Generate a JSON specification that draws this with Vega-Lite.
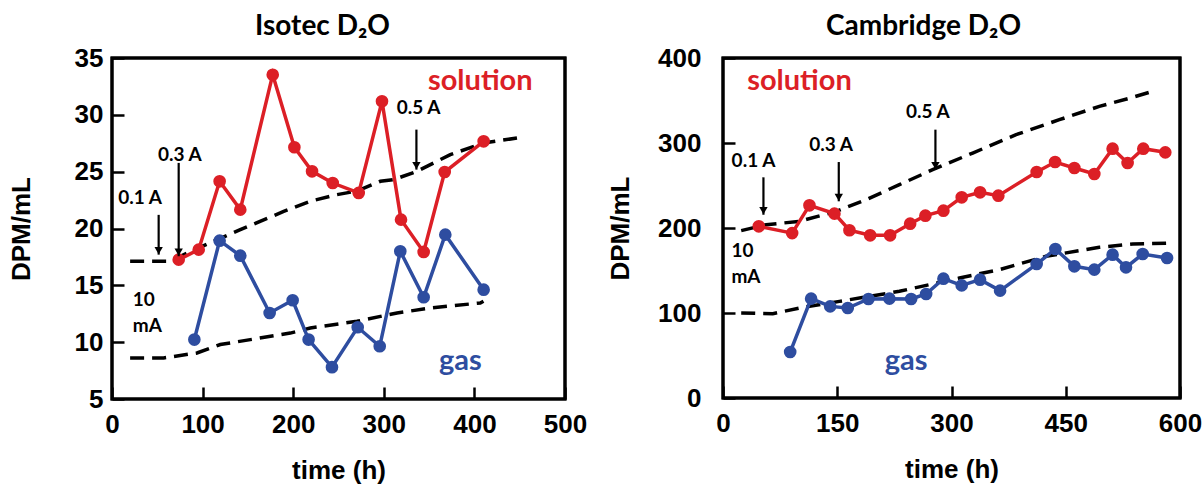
{
  "$schema": "https://vega.github.io/schema/vega-lite/v6.json",
  "padding": {"left": 6, "top": 11, "right": 5, "bottom": 0},
  "spacing": 17,
  "datasets": {
    "isoPts": [
      {"t": 73.6, "v": 17.26, "s": "solution"},
      {"t": 95.7, "v": 18.14, "s": "solution"},
      {"t": 118.8, "v": 24.15, "s": "solution"},
      {"t": 141.6, "v": 21.66, "s": "solution"},
      {"t": 177.4, "v": 33.53, "s": "solution"},
      {"t": 201.3, "v": 27.15, "s": "solution"},
      {"t": 220.8, "v": 25.03, "s": "solution"},
      {"t": 243.6, "v": 24.0, "s": "solution"},
      {"t": 272.3, "v": 23.13, "s": "solution"},
      {"t": 298.0, "v": 31.19, "s": "solution"},
      {"t": 319.0, "v": 20.78, "s": "solution"},
      {"t": 344.0, "v": 17.94, "s": "solution"},
      {"t": 367.2, "v": 24.97, "s": "solution"},
      {"t": 410.2, "v": 27.67, "s": "solution"},
      {"t": 90.9, "v": 10.23, "s": "gas"},
      {"t": 118.8, "v": 18.93, "s": "gas"},
      {"t": 141.6, "v": 17.61, "s": "gas"},
      {"t": 174.0, "v": 12.57, "s": "gas"},
      {"t": 199.4, "v": 13.69, "s": "gas"},
      {"t": 217.0, "v": 10.23, "s": "gas"},
      {"t": 242.8, "v": 7.8, "s": "gas"},
      {"t": 271.2, "v": 11.31, "s": "gas"},
      {"t": 295.5, "v": 9.64, "s": "gas"},
      {"t": 318.2, "v": 18.0, "s": "gas"},
      {"t": 344.0, "v": 13.95, "s": "gas"},
      {"t": 367.9, "v": 19.46, "s": "gas"},
      {"t": 410.2, "v": 14.62, "s": "gas"}
    ],
    "isoCurve": [
      {"t": 20, "v": 17.12, "c": "upper"},
      {"t": 62.5, "v": 17.12, "c": "upper"},
      {"t": 75.4, "v": 17.56, "c": "upper"},
      {"t": 112.2, "v": 18.88, "c": "upper"},
      {"t": 141.6, "v": 19.9, "c": "upper"},
      {"t": 189.5, "v": 21.5, "c": "upper"},
      {"t": 218.9, "v": 22.4, "c": "upper"},
      {"t": 248.3, "v": 22.98, "c": "upper"},
      {"t": 270.4, "v": 23.3, "c": "upper"},
      {"t": 296.2, "v": 24.15, "c": "upper"},
      {"t": 310.9, "v": 24.3, "c": "upper"},
      {"t": 336.6, "v": 25.03, "c": "upper"},
      {"t": 373.4, "v": 26.5, "c": "upper"},
      {"t": 410.2, "v": 27.52, "c": "upper"},
      {"t": 447, "v": 27.96, "c": "upper"},
      {"t": 20, "v": 8.61, "c": "lower"},
      {"t": 57, "v": 8.61, "c": "lower"},
      {"t": 93.8, "v": 9.05, "c": "lower"},
      {"t": 119.5, "v": 9.79, "c": "lower"},
      {"t": 196.8, "v": 10.8, "c": "lower"},
      {"t": 218.9, "v": 11.25, "c": "lower"},
      {"t": 270.4, "v": 11.84, "c": "lower"},
      {"t": 314.6, "v": 12.57, "c": "lower"},
      {"t": 351.3, "v": 13.0, "c": "lower"},
      {"t": 406.5, "v": 13.45, "c": "lower"},
      {"t": 410, "v": 13.6, "c": "lower"}
    ],
    "isoArrow": [
      {"t": 51.5, "y1": 21.2, "y2": 17.7},
      {"t": 73.6, "y1": 25.77, "y2": 17.56},
      {"t": 336, "y1": 28.7, "y2": 25.18}
    ],
    "isoNote": [
      {"t": 30.9, "v": 22.69, "label": "0.1 A"},
      {"t": 75, "v": 26.5, "label": "0.3 A"},
      {"t": 338.5, "v": 30.6, "label": "0.5 A"}
    ],
    "isoMA": [{"t": 23, "v": 13.74, "label": "10\nmA"}],
    "isoSeries": [
      {"t": 406.5, "v": 32.95, "s": "solution"},
      {"t": 384.4, "v": 8.33, "s": "gas"}
    ],
    "isoBox": [
      {"t": 0, "v": 5, "o": 1},
      {"t": 500, "v": 5, "o": 2},
      {"t": 500, "v": 35, "o": 3},
      {"t": 0, "v": 35, "o": 4},
      {"t": 0, "v": 5, "o": 5}
    ],
    "camPts": [
      {"t": 47, "v": 202, "s": "solution"},
      {"t": 90.8, "v": 194, "s": "solution"},
      {"t": 113.5, "v": 226.7, "s": "solution"},
      {"t": 146.3, "v": 216.9, "s": "solution"},
      {"t": 166, "v": 197.3, "s": "solution"},
      {"t": 193.2, "v": 191.4, "s": "solution"},
      {"t": 219.4, "v": 191.4, "s": "solution"},
      {"t": 245.7, "v": 205.1, "s": "solution"},
      {"t": 265.7, "v": 214.5, "s": "solution"},
      {"t": 289.4, "v": 220.4, "s": "solution"},
      {"t": 313.4, "v": 236.1, "s": "solution"},
      {"t": 337.5, "v": 242, "s": "solution"},
      {"t": 361.5, "v": 238, "s": "solution"},
      {"t": 411.8, "v": 265.9, "s": "solution"},
      {"t": 436, "v": 277.6, "s": "solution"},
      {"t": 461.3, "v": 270.6, "s": "solution"},
      {"t": 487.5, "v": 263.5, "s": "solution"},
      {"t": 511.5, "v": 293.3, "s": "solution"},
      {"t": 531.2, "v": 276.5, "s": "solution"},
      {"t": 551.8, "v": 293.3, "s": "solution"},
      {"t": 580.7, "v": 289, "s": "solution"},
      {"t": 88.2, "v": 54.1, "s": "gas"},
      {"t": 115.7, "v": 116.9, "s": "gas"},
      {"t": 140.7, "v": 107.8, "s": "gas"},
      {"t": 163.8, "v": 105.9, "s": "gas"},
      {"t": 191, "v": 116.5, "s": "gas"},
      {"t": 218.5, "v": 116.9, "s": "gas"},
      {"t": 247, "v": 116.5, "s": "gas"},
      {"t": 266.7, "v": 122.4, "s": "gas"},
      {"t": 289.4, "v": 140.4, "s": "gas"},
      {"t": 313.4, "v": 132.5, "s": "gas"},
      {"t": 337.5, "v": 139.2, "s": "gas"},
      {"t": 363.8, "v": 126.3, "s": "gas"},
      {"t": 411.8, "v": 157.6, "s": "gas"},
      {"t": 436.4, "v": 175.3, "s": "gas"},
      {"t": 461.3, "v": 154.9, "s": "gas"},
      {"t": 487.5, "v": 151, "s": "gas"},
      {"t": 511.5, "v": 168.6, "s": "gas"},
      {"t": 529.1, "v": 153.7, "s": "gas"},
      {"t": 551, "v": 169.4, "s": "gas"},
      {"t": 583, "v": 164.7, "s": "gas"}
    ],
    "camCurve": [
      {"t": 23.9, "v": 196.9, "c": "upper"},
      {"t": 56.7, "v": 203.9, "c": "upper"},
      {"t": 100.4, "v": 207.8, "c": "upper"},
      {"t": 148.6, "v": 219.6, "c": "upper"},
      {"t": 187.9, "v": 233.3, "c": "upper"},
      {"t": 231.6, "v": 251, "c": "upper"},
      {"t": 275.3, "v": 268.6, "c": "upper"},
      {"t": 327.8, "v": 288.2, "c": "upper"},
      {"t": 384.8, "v": 309.8, "c": "upper"},
      {"t": 441.6, "v": 327.4, "c": "upper"},
      {"t": 494.1, "v": 343.1, "c": "upper"},
      {"t": 537.8, "v": 353.7, "c": "upper"},
      {"t": 564, "v": 360.8, "c": "upper"},
      {"t": 23.9, "v": 100, "c": "lower"},
      {"t": 65.4, "v": 99.2, "c": "lower"},
      {"t": 100.4, "v": 105.9, "c": "lower"},
      {"t": 152.9, "v": 113.7, "c": "lower"},
      {"t": 231.6, "v": 125.5, "c": "lower"},
      {"t": 310.4, "v": 141.2, "c": "lower"},
      {"t": 362.9, "v": 151, "c": "lower"},
      {"t": 424.1, "v": 166.7, "c": "lower"},
      {"t": 494.1, "v": 177.3, "c": "lower"},
      {"t": 537.8, "v": 181.2, "c": "lower"},
      {"t": 590.3, "v": 182.4, "c": "lower"}
    ],
    "camArrow": [
      {"t": 53.1, "y1": 259.6, "y2": 215.6},
      {"t": 152, "y1": 277.6, "y2": 231.4},
      {"t": 278.9, "y1": 315.7, "y2": 268.6}
    ],
    "camNote": [
      {"t": 40, "v": 278.5, "label": "0.1 A"},
      {"t": 142, "v": 298, "label": "0.3 A"},
      {"t": 268.8, "v": 336.1, "label": "0.5 A"}
    ],
    "camMA": [{"t": 11, "v": 172.6, "label": "10\nmA"}],
    "camSeries": [
      {"t": 100.4, "v": 372.6, "s": "solution"},
      {"t": 240.4, "v": 43.2, "s": "gas"}
    ],
    "camBox": [
      {"t": 0, "v": 0, "o": 1},
      {"t": 600, "v": 0, "o": 2},
      {"t": 600, "v": 400, "o": 3},
      {"t": 0, "v": 400, "o": 4},
      {"t": 0, "v": 0, "o": 5}
    ]
  },
  "hconcat": [
    {
      "width": 453,
      "height": 341,
      "title": {"text": "Isotec D₂O", "font": "Lato", "fontSize": 28, "fontWeight": "bold", "color": "black", "offset": 4, "dx": -16},
      "layer": [
        {
          "data": {"name": "isoCurve"},
          "mark": {"type": "line", "color": "black", "strokeWidth": 3.5, "strokeDash": [14, 8]},
          "encoding": {
            "x": {"field": "t", "type": "quantitative", "scale": {"domain": [0, 500], "nice": false},
              "axis": {"title": "time (h)", "values": [0, 100, 200, 300, 400, 500], "labelPadding": 24, "titlePadding": 20}},
            "y": {"field": "v", "type": "quantitative", "scale": {"domain": [5, 35], "nice": false, "zero": false},
              "axis": {"title": "DPM/mL", "values": [5, 10, 15, 20, 25, 30, 35], "labelPadding": 21, "titlePadding": 40}},
            "detail": {"field": "c"}
          }
        },
        {
          "data": {"name": "isoBox"},
          "mark": {"type": "line", "color": "black", "strokeWidth": 3, "clip": false, "strokeCap": "square"},
          "encoding": {
            "x": {"field": "t", "type": "quantitative"},
            "y": {"field": "v", "type": "quantitative"},
            "order": {"field": "o", "type": "quantitative"}
          }
        },
        {
          "data": {"name": "isoPts"},
          "mark": {"type": "line", "strokeWidth": 3.5, "point": {"filled": true, "size": 160}},
          "encoding": {
            "x": {"field": "t", "type": "quantitative"},
            "y": {"field": "v", "type": "quantitative"},
            "color": {"field": "s", "type": "nominal", "scale": {"domain": ["solution", "gas"], "range": ["#dc1f26", "#2e4da0"]}, "legend": null}
          }
        },
        {
          "data": {"name": "isoArrow"},
          "mark": {"type": "rule", "color": "black", "strokeWidth": 2.2},
          "encoding": {
            "x": {"field": "t", "type": "quantitative"},
            "y": {"field": "y1", "type": "quantitative"},
            "y2": {"field": "y2"}
          }
        },
        {
          "data": {"name": "isoArrow"},
          "mark": {"type": "point", "shape": "triangle-down", "filled": true, "color": "black", "size": 70, "opacity": 1, "yOffset": -4},
          "encoding": {
            "x": {"field": "t", "type": "quantitative"},
            "y": {"field": "y2", "type": "quantitative"}
          }
        },
        {
          "data": {"name": "isoNote"},
          "mark": {"type": "text", "font": "Lato", "fontSize": 19, "fontWeight": "bold", "color": "black"},
          "encoding": {
            "x": {"field": "t", "type": "quantitative"},
            "y": {"field": "v", "type": "quantitative"},
            "text": {"field": "label"}
          }
        },
        {
          "data": {"name": "isoMA"},
          "mark": {"type": "text", "font": "Lato", "fontSize": 19, "fontWeight": "bold", "color": "black", "align": "left", "lineBreak": "\n", "lineHeight": 26},
          "encoding": {
            "x": {"field": "t", "type": "quantitative"},
            "y": {"field": "v", "type": "quantitative"},
            "text": {"field": "label"}
          }
        },
        {
          "data": {"name": "isoSeries"},
          "mark": {"type": "text", "font": "Lato", "fontSize": 29, "fontWeight": "bold"},
          "encoding": {
            "x": {"field": "t", "type": "quantitative"},
            "y": {"field": "v", "type": "quantitative"},
            "text": {"field": "s"},
            "color": {"field": "s", "type": "nominal", "scale": {"domain": ["solution", "gas"], "range": ["#dc1f26", "#2e4da0"]}, "legend": null}
          }
        }
      ]
    },
    {
      "width": 457,
      "height": 340,
      "title": {"text": "Cambridge D₂O", "font": "Lato", "fontSize": 28, "fontWeight": "bold", "color": "black", "offset": 4, "dx": -28},
      "layer": [
        {
          "data": {"name": "camCurve"},
          "mark": {"type": "line", "color": "black", "strokeWidth": 3.5, "strokeDash": [14, 8]},
          "encoding": {
            "x": {"field": "t", "type": "quantitative", "scale": {"domain": [0, 600], "nice": false},
              "axis": {"title": "time (h)", "values": [0, 150, 300, 450, 600], "labelPadding": 24, "titlePadding": 20}},
            "y": {"field": "v", "type": "quantitative", "scale": {"domain": [0, 400], "nice": false},
              "axis": {"title": "DPM/mL", "values": [0, 100, 200, 300, 400], "labelPadding": 34, "titlePadding": 24}},
            "detail": {"field": "c"}
          }
        },
        {
          "data": {"name": "camBox"},
          "mark": {"type": "line", "color": "black", "strokeWidth": 3, "clip": false, "strokeCap": "square"},
          "encoding": {
            "x": {"field": "t", "type": "quantitative"},
            "y": {"field": "v", "type": "quantitative"},
            "order": {"field": "o", "type": "quantitative"}
          }
        },
        {
          "data": {"name": "camPts"},
          "mark": {"type": "line", "strokeWidth": 3.5, "point": {"filled": true, "size": 160}},
          "encoding": {
            "x": {"field": "t", "type": "quantitative"},
            "y": {"field": "v", "type": "quantitative"},
            "color": {"field": "s", "type": "nominal", "scale": {"domain": ["solution", "gas"], "range": ["#dc1f26", "#2e4da0"]}, "legend": null}
          }
        },
        {
          "data": {"name": "camArrow"},
          "mark": {"type": "rule", "color": "black", "strokeWidth": 2.2},
          "encoding": {
            "x": {"field": "t", "type": "quantitative"},
            "y": {"field": "y1", "type": "quantitative"},
            "y2": {"field": "y2"}
          }
        },
        {
          "data": {"name": "camArrow"},
          "mark": {"type": "point", "shape": "triangle-down", "filled": true, "color": "black", "size": 70, "opacity": 1, "yOffset": -4},
          "encoding": {
            "x": {"field": "t", "type": "quantitative"},
            "y": {"field": "y2", "type": "quantitative"}
          }
        },
        {
          "data": {"name": "camNote"},
          "mark": {"type": "text", "font": "Lato", "fontSize": 19, "fontWeight": "bold", "color": "black"},
          "encoding": {
            "x": {"field": "t", "type": "quantitative"},
            "y": {"field": "v", "type": "quantitative"},
            "text": {"field": "label"}
          }
        },
        {
          "data": {"name": "camMA"},
          "mark": {"type": "text", "font": "Lato", "fontSize": 19, "fontWeight": "bold", "color": "black", "align": "left", "lineBreak": "\n", "lineHeight": 26},
          "encoding": {
            "x": {"field": "t", "type": "quantitative"},
            "y": {"field": "v", "type": "quantitative"},
            "text": {"field": "label"}
          }
        },
        {
          "data": {"name": "camSeries"},
          "mark": {"type": "text", "font": "Lato", "fontSize": 29, "fontWeight": "bold"},
          "encoding": {
            "x": {"field": "t", "type": "quantitative"},
            "y": {"field": "v", "type": "quantitative"},
            "text": {"field": "s"},
            "color": {"field": "s", "type": "nominal", "scale": {"domain": ["solution", "gas"], "range": ["#dc1f26", "#2e4da0"]}, "legend": null}
          }
        }
      ]
    }
  ],
  "config": {
    "background": "white",
    "view": {"stroke": "#000000", "strokeWidth": 3},
    "axis": {
      "grid": false,
      "domain": false,
      "zindex": 1,
      "tickColor": "#000000",
      "tickWidth": 2.5,
      "tickSize": -12,
      "labelFont": "Liberation Sans",
      "labelFontSize": 26,
      "labelFontWeight": "bold",
      "labelColor": "black",
      "titleFont": "Liberation Sans",
      "titleFontSize": 26,
      "titleFontWeight": "bold",
      "titleColor": "black"
    },
    "axisX": {"labelFlush": false},
    "axisY": {"labelFlush": false}
  }
}
